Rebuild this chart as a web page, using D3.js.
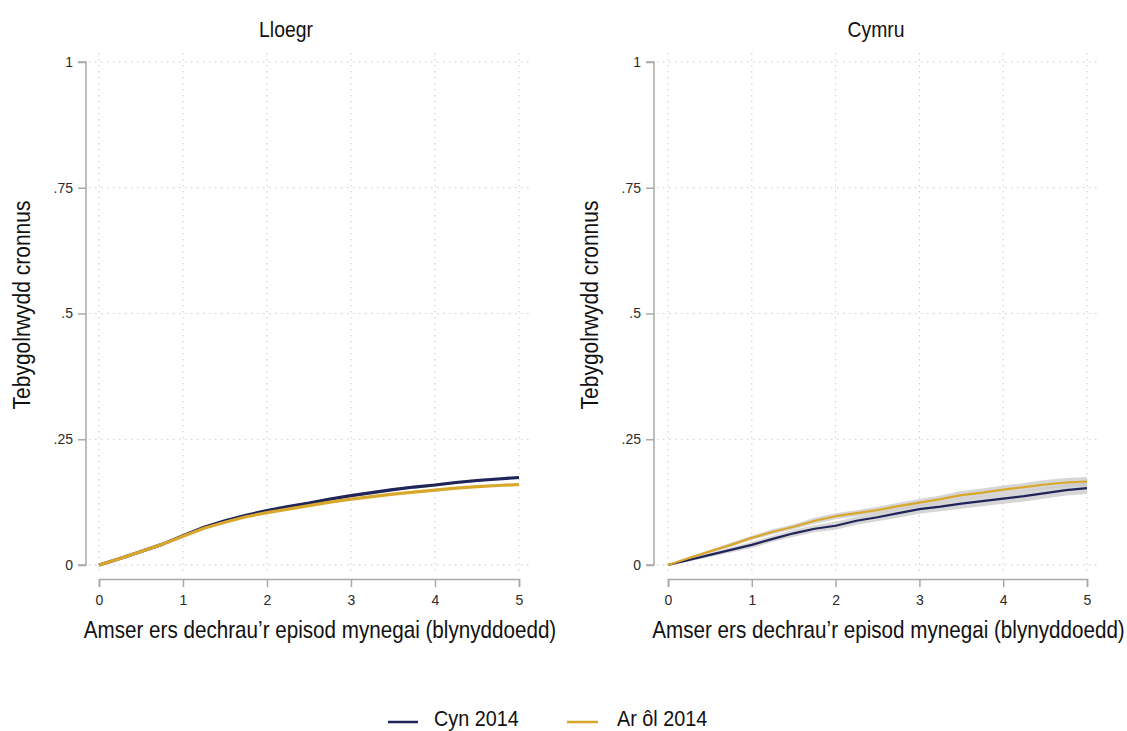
<!DOCTYPE html>
<html>
<head>
<meta charset="utf-8">
<script src="https://cdn.jsdelivr.net/npm/d3@7"></script>
<style>
  html, body { margin: 0; padding: 0; background: #fff; }
  svg { display: block; }
  text { font-family: "Liberation Sans Narrow", "Arial Narrow", "Liberation Sans", Arial, sans-serif; }
</style>
</head>
<body>
<svg id="chart" width="1127" height="731"></svg>
<script>
// ---- data ----
const years = [0, 0.25, 0.5, 0.75, 1, 1.25, 1.5, 1.75, 2, 2.25, 2.5, 2.75, 3, 3.25, 3.5, 3.75, 4, 4.25, 4.5, 4.75, 5];
const panelTitles = ["Lloegr", "Cymru"];
const seriesNames = ["Cyn 2014", "Ar ôl 2014"];
const seriesColors = ["#1f2459", "#d9a72b"];
const yTickValues = [0, 0.25, 0.5, 0.75, 1];
const yTickLabels = ["0", ".25", ".5", ".75", "1"];
const xTickValues = [0, 1, 2, 3, 4, 5];
const yAxisTitle = "Tebygolrwydd cronnus";
const xAxisTitle = "Amser ers dechrau\u2019r episod mynegai (blynyddoedd)";

const englandBefore = [0, 0.013, 0.027, 0.041, 0.058, 0.075, 0.088, 0.099, 0.108, 0.116, 0.123, 0.131, 0.138, 0.144, 0.150, 0.155, 0.159, 0.164, 0.168, 0.171, 0.174];
const englandAfter  = [0, 0.013, 0.027, 0.041, 0.057, 0.073, 0.085, 0.096, 0.104, 0.111, 0.118, 0.125, 0.131, 0.136, 0.141, 0.145, 0.149, 0.153, 0.156, 0.158, 0.160];
const englandBeforeCI = [0, 0.001, 0.001, 0.001, 0.002, 0.002, 0.002, 0.002, 0.002, 0.002, 0.002, 0.002, 0.003, 0.003, 0.003, 0.003, 0.003, 0.003, 0.003, 0.003, 0.003];
const englandAfterCI  = [0, 0.001, 0.001, 0.001, 0.001, 0.001, 0.002, 0.002, 0.002, 0.002, 0.002, 0.002, 0.002, 0.002, 0.002, 0.002, 0.002, 0.002, 0.002, 0.002, 0.002];

const walesBefore = [0, 0.010, 0.020, 0.030, 0.040, 0.052, 0.063, 0.072, 0.078, 0.088, 0.095, 0.103, 0.111, 0.116, 0.122, 0.127, 0.132, 0.137, 0.143, 0.149, 0.153];
const walesAfter  = [0, 0.014, 0.027, 0.040, 0.054, 0.066, 0.076, 0.088, 0.097, 0.103, 0.109, 0.117, 0.124, 0.131, 0.139, 0.144, 0.150, 0.155, 0.160, 0.164, 0.166];
const walesBeforeCI = [0, 0.003, 0.004, 0.005, 0.006, 0.006, 0.007, 0.007, 0.008, 0.008, 0.008, 0.009, 0.009, 0.009, 0.010, 0.010, 0.010, 0.011, 0.011, 0.011, 0.012];
const walesAfterCI  = [0, 0.002, 0.003, 0.004, 0.004, 0.005, 0.005, 0.006, 0.006, 0.006, 0.007, 0.007, 0.007, 0.007, 0.008, 0.008, 0.008, 0.008, 0.009, 0.009, 0.009];

const panels = [
  { title: panelTitles[0], series: [englandBefore, englandAfter], ci: [englandBeforeCI, englandAfterCI], lineWidth: 3.2 },
  { title: panelTitles[1], series: [walesBefore, walesAfter], ci: [walesBeforeCI, walesAfterCI], lineWidth: 2.2 }
];

// ---- layout ----
const layouts = [
  { x0: 99, x1: 519, axisX: 86, titleX: 286, yTitleX: 30 },
  { x0: 668, x1: 1087, axisX: 654, titleX: 876, yTitleX: 598 }
];
const yTop = 62, yBot = 565, xAxisY = 579;

const svg = d3.select("#chart");

// condensed text helper: centred at (cx, cy), squeezed horizontally
function condensedText(parent, str, cx, cy, size, scaleX, rotate) {
  const t = parent.append("text")
    .attr("x", 0).attr("y", 0).attr("text-anchor", "middle")
    .style("font-size", size + "px").attr("fill", "#111").text(str);
  t.attr("transform", `translate(${cx},${cy})` + (rotate ? ` rotate(${rotate})` : "") + ` scale(${scaleX},1)`);
  return t;
}

panels.forEach((p, i) => {
  const L = layouts[i];
  const x = d3.scaleLinear().domain([0, 5]).range([L.x0, L.x1]);
  const y = d3.scaleLinear().domain([0, 1]).range([yBot, yTop]);
  const g = svg.append("g");

  // grid
  g.selectAll(".vg").data(xTickValues).enter().append("line")
    .attr("x1", d => x(d)).attr("x2", d => x(d))
    .attr("y1", 53).attr("y2", 573)
    .attr("stroke", "#c9c9c9").attr("stroke-width", 1)
    .attr("stroke-dasharray", "1.5,4.5");
  g.selectAll(".hg").data(yTickValues).enter().append("line")
    .attr("x1", L.axisX + 3).attr("x2", L.x1 + 11)
    .attr("y1", d => y(d)).attr("y2", d => y(d))
    .attr("stroke", "#c9c9c9").attr("stroke-width", 1)
    .attr("stroke-dasharray", "1.5,4.5");

  // y axis
  const yAxis = d3.axisLeft(y).tickValues(yTickValues)
    .tickFormat((d, k) => yTickLabels[k]).tickSize(8).tickPadding(5);
  const ya = g.append("g").attr("transform", `translate(${L.axisX},0)`).call(yAxis);
  ya.select(".domain").attr("stroke", "#a8a8a8").attr("stroke-width", 1.5)
    .attr("d", `M-8,${y(1)}H0V${y(0)}H-8`);
  ya.selectAll(".tick line").attr("stroke", "#a8a8a8").attr("stroke-width", 1.5);
  ya.selectAll(".tick text").attr("fill", "#2b2b2b").style("font-size", "14px");

  // x axis
  const xAxis = d3.axisBottom(x).tickValues(xTickValues).tickFormat(d3.format("d"))
    .tickSize(8).tickPadding(8);
  const xa = g.append("g").attr("transform", `translate(0,${xAxisY})`).call(xAxis);
  xa.select(".domain").attr("stroke", "#a8a8a8").attr("stroke-width", 1.5);
  xa.selectAll(".tick line").attr("stroke", "#a8a8a8").attr("stroke-width", 1.5);
  xa.selectAll(".tick text").attr("fill", "#2b2b2b").style("font-size", "14px");

  // CI bands
  p.series.forEach((s, k) => {
    const area = d3.area()
      .x((d, j) => x(years[j]))
      .y0((d, j) => y(Math.max(0, d - p.ci[k][j])))
      .y1((d, j) => y(d + p.ci[k][j]));
    g.append("path").datum(s).attr("d", area)
      .attr("fill", "#c8c8c8").attr("opacity", 0.75);
  });
  // lines
  p.series.forEach((s, k) => {
    const line = d3.line().x((d, j) => x(years[j])).y(d => y(d));
    g.append("path").datum(s).attr("d", line)
      .attr("fill", "none").attr("stroke", seriesColors[k])
      .attr("stroke-width", p.lineWidth).attr("stroke-linejoin", "round");
  });

  // titles
  condensedText(g, p.title, L.titleX, 37, 22, 0.88, 0);
  condensedText(g, yAxisTitle, L.yTitleX, 305, 24, 0.875, -90);
  condensedText(g, xAxisTitle, (L.x0 + L.x1) / 2 + 11, 638, 24, 0.86, 0);
});

// legend
const legendItems = [
  { x1: 388, x2: 418, tx: 434 },
  { x1: 567, x2: 598, tx: 617 }
];
const lg = svg.append("g");
seriesNames.forEach((name, k) => {
  const it = legendItems[k];
  lg.append("line").attr("x1", it.x1).attr("x2", it.x2).attr("y1", 722).attr("y2", 722)
    .attr("stroke", seriesColors[k]).attr("stroke-width", 2.5);
  lg.append("text").attr("x", it.tx).attr("y", 726).style("font-size", "22px")
    .attr("transform", `translate(${it.tx},0) scale(0.9,1) translate(${-it.tx},0)`)
    .attr("fill", "#111").text(name);
});
</script>
</body>
</html>
